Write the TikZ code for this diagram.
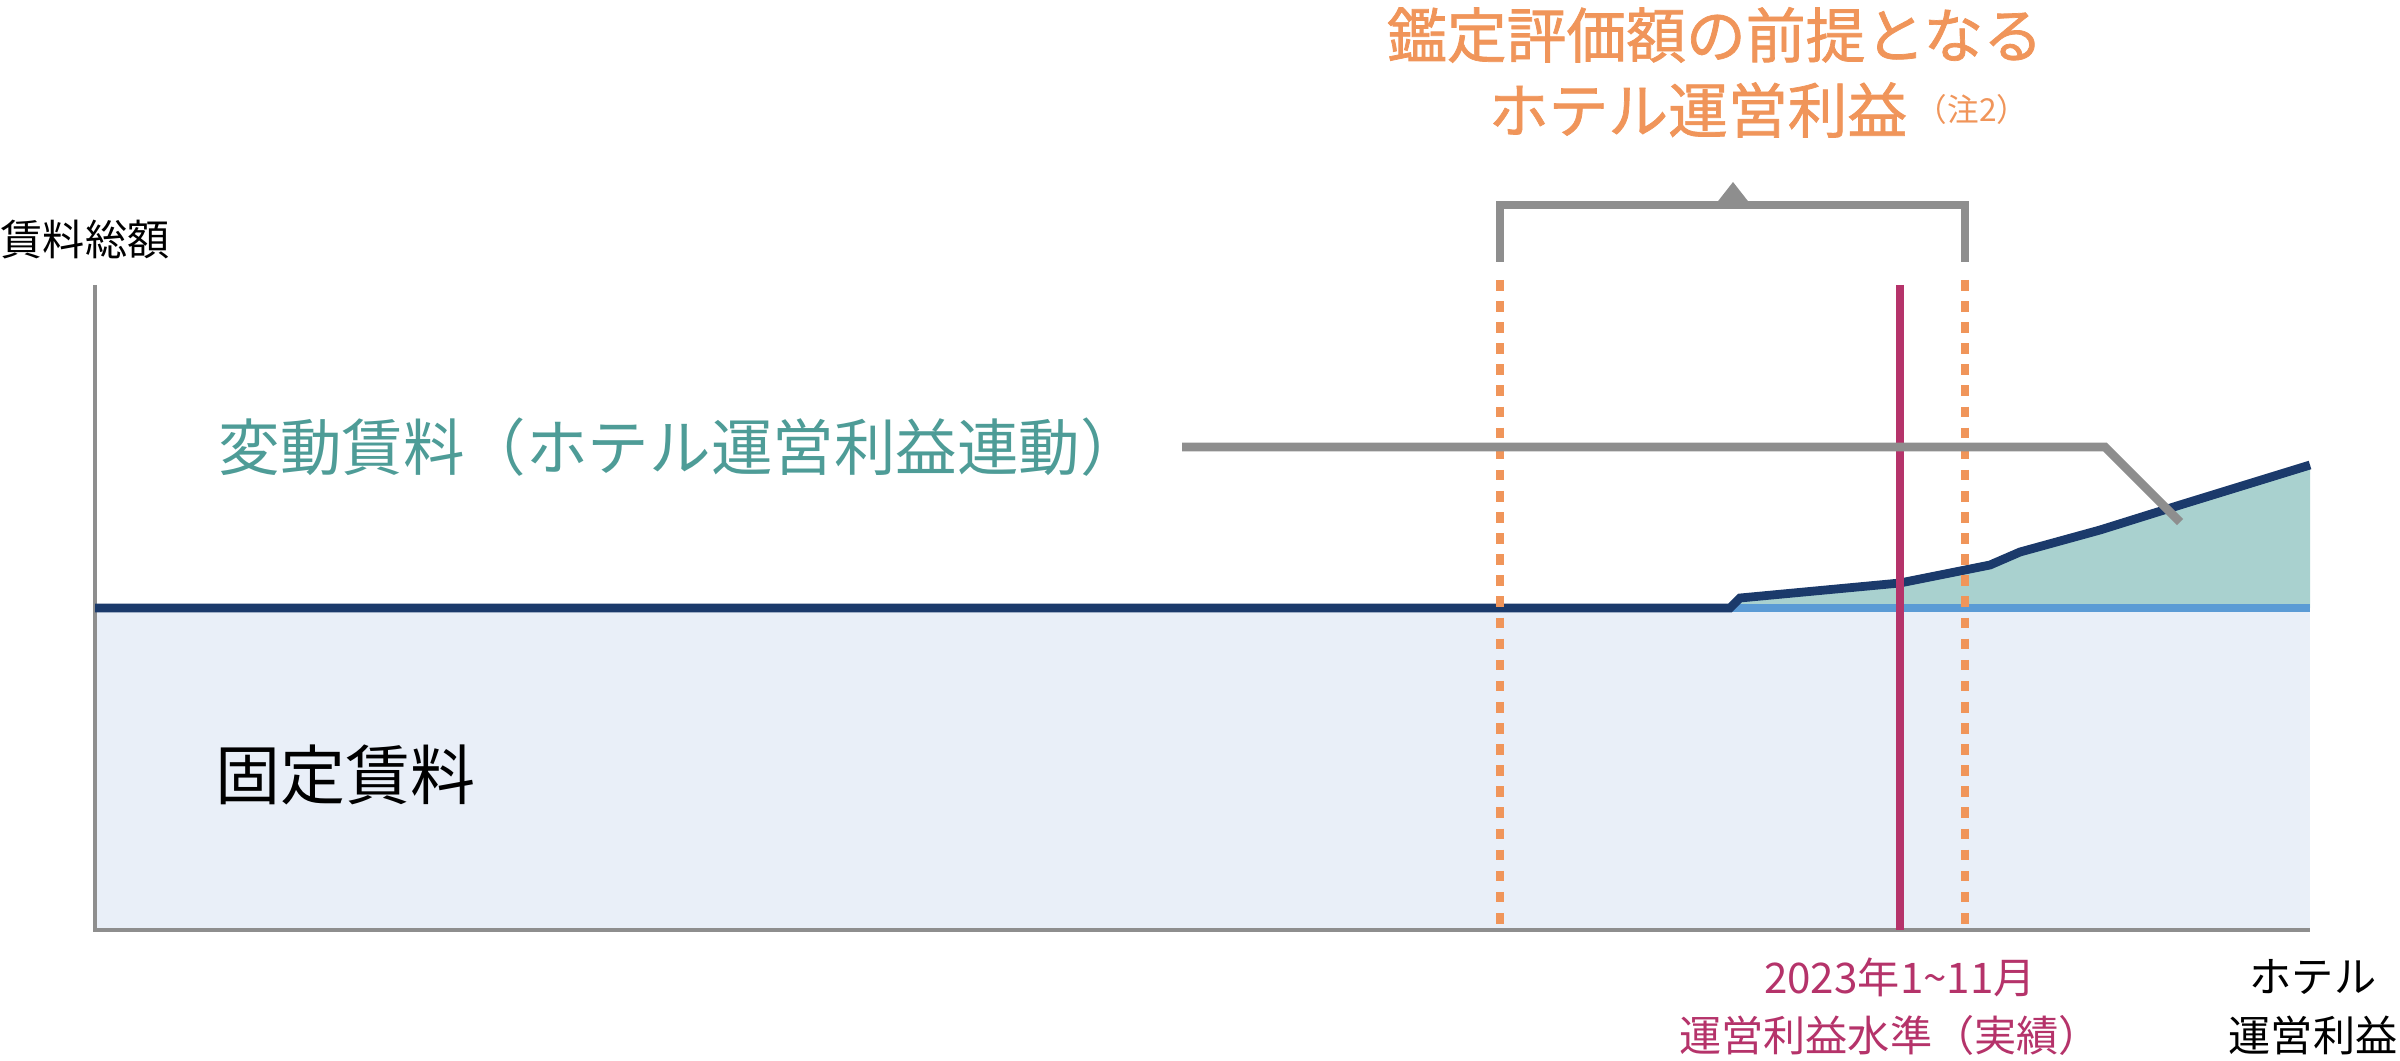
\documentclass[tikz,border=0pt]{standalone}
\usepackage{fontspec}
\newfontfamily\jp{Noto Sans CJK JP}
\newfontfamily\jpm[FakeBold=1.2]{Noto Sans CJK JP}
\definecolor{orangeT}{HTML}{F0955A}
\definecolor{tealT}{HTML}{4E9C97}
\definecolor{navyL}{HTML}{1B3A6B}
\definecolor{magL}{HTML}{B5336A}
\definecolor{grayL}{HTML}{8E8E8E}
\definecolor{fixfill}{HTML}{E9EFF8}
\definecolor{varfill}{HTML}{A9D1CF}
\definecolor{blueL}{HTML}{5B9BD5}
\begin{document}
\begin{tikzpicture}[x=0.01cm, y=-0.01cm, font=\jp,
    lbl/.style={inner sep=0pt},
    dotline/.style={orangeT, line width=2.2pt, dash pattern=on 3pt off 3pt}]
    \useasboundingbox (0,0) rectangle (2400,1061);

                % Areas
                \fill[fixfill] (95,608) rectangle (2310,930);
                \fill[varfill] (1730,608) -- (1740,598) -- (1900,583) -- (1990,565) -- (2020,552)
                    -- (2100,530) -- (2180,505) -- (2310,465) -- (2310,608) -- cycle;

                % Axes
                \coordinate (o) at (95,930);
                \coordinate (ytop) at (95,285);
                \coordinate (xend) at (2310,930);
                \draw[grayL, line width=1.2pt] (ytop) -- (o) -- (xend);

                % Rent lines
                \coordinate (k) at (1730,608);
                \draw[blueL, line width=2.5pt] (k) -- (2310,608);
                \draw[navyL, line width=2.5pt] (95,608) -- (k) -- (1740,598) -- (1900,583) -- (1990,565)
                    -- (2020,552) -- (2100,530) -- (2180,505) -- (2310,465);

                % Verticals
                \coordinate (l1) at (1500,280);
                \coordinate (l2) at (1965,280);
                \coordinate (m1) at (1900,285);
                \draw[dotline] (l1) -- (1500,930);
                \draw[dotline] (l2) -- (1965,930);
                \draw[magL, line width=2.5pt] (m1) -- (1900,930);

                % Bracket
                \coordinate (b1) at (1500,262);
                \coordinate (b2) at (1965,262);
                \draw[grayL, line width=2.5pt] (b1) -- (1500,205) -- (1965,205) -- (b2);
                \fill[grayL] (1715,205) -- (1733,182) -- (1751,205) -- cycle;

                % Labels
                \node[lbl, orangeT, font=\jpm\fontsize{17}{20}\selectfont] (title1) at (1715,35) {鑑定評価額の前提となる};
                \node[lbl, orangeT, font=\jpm\fontsize{17}{20}\selectfont] (title2) at (1698,110) {ホテル運営利益};
                \node[lbl, orangeT, font=\jp\fontsize{9}{11}\selectfont, anchor=west] (note) at ([yshift=-8pt]title2.north east) {\hspace{2pt}（注2）};
                \node[lbl, font=\jp\fontsize{12}{14}\selectfont, anchor=west] (yl) at (0,240) {賃料総額};
                \node[lbl, tealT, font=\jp\fontsize{17.5}{20}\selectfont, anchor=west] (var) at (218,447) {変動賃料（ホテル運営利益連動）};
                \node[lbl, font=\jp\fontsize{18.5}{22}\selectfont, anchor=west] (fix) at (215,775) {固定賃料};
                \node[lbl, magL, font=\jp\fontsize{12}{14}\selectfont] (d1) at (1900,977) {2023年1\textasciitilde11月};
                \node[lbl, magL, font=\jp\fontsize{12}{14}\selectfont] (d2) at (1890,1035) {運営利益水準（実績）};
                \node[lbl, font=\jp\fontsize{12}{14}\selectfont] (h1) at (2313,977) {ホテル};
                \node[lbl, font=\jp\fontsize{12}{14}\selectfont] (h2) at (2313,1035) {運営利益};

                % Leader
                \coordinate (t) at (2180,522);
                \draw[grayL, line width=2.5pt] (1182,447) -- (2105,447) -- (t);

\end{tikzpicture}
\end{document}
